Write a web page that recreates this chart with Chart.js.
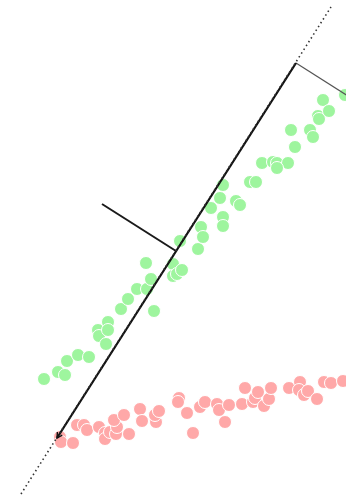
<!DOCTYPE html>
<html>
<head>
<meta charset="utf-8">
<script src="https://cdn.jsdelivr.net/npm/chart.js@4/dist/chart.umd.min.js"></script>
<style>
  html, body { margin: 0; padding: 0; background: #fff; }
  #wrap { width: 346px; height: 498px; }
</style>
</head>
<body>
<div id="wrap"><canvas id="chartPca"></canvas></div>
<script>
// two groups of samples
var greenX = [44,58,65,67,78,89,98,99,108,108,106,121,128,137,147,151,146,154,173,173,177,182,180,198,201,203,211,220,223,223,223,236,240,250,256,262,273,277,288,277,291,295,310,313,318,319,323,329,345]
var greenY = [119,126,123,137,143,141,168,162,176,168,154,189,199,209,209,219,235,187,234,222,224,228,257,249,271,261,290,300,313,281,272,297,293,316,316,335,336,335,335,330,368,351,368,361,382,379,398,387,403]

var redX = [60,61,73,77,84,87,99,105,105,110,116,117,114,124,129,140,142,156,155,159,179,178,187,193,200,205,217,219,229,225,242,245,253,255,258,264,269,271,289,300,299,304,308,317,324,331,343]
var redY = [61,56,55,73,73,68,71,65,59,66,64,71,78,83,64,89,77,76,83,87,100,96,85,65,91,96,94,88,93,76,94,110,96,100,106,92,99,110,110,116,108,103,107,99,116,115,117]

// principal axis (dotted), component arrow and the two perpendicular ticks
var axisX = [21, 331]
var axisY = [4, 491]
var arrowX = [296, 57]
var arrowY = [435, 60]
var perpTopX = [296, 362]
var perpTopY = [435, 393]
var perpMidX = [102, 176]
var perpMidY = [294, 247]

function pts(xs, ys){
    return xs.map(function(x, i){ return {x: x, y: ys[i]} })
}

// open arrowhead on the last point of the dataset that asks for it
var arrowHead = {
    id: 'arrowHead',
    afterDatasetsDraw: function(chart){
        chart.data.datasets.forEach(function(ds, i){
            if (!ds.arrow) return
            var meta = chart.getDatasetMeta(i)
            var a = meta.data[meta.data.length - 2]
            var b = meta.data[meta.data.length - 1]
            var ang = Math.atan2(b.y - a.y, b.x - a.x)
            var len = 6
            var c = chart.ctx
            c.save()
            c.strokeStyle = ds.borderColor
            c.lineWidth = 1.4
            c.beginPath()
            c.moveTo(b.x - len * Math.cos(ang - 0.5), b.y - len * Math.sin(ang - 0.5))
            c.lineTo(b.x, b.y)
            c.lineTo(b.x - len * Math.cos(ang + 0.5), b.y - len * Math.sin(ang + 0.5))
            c.stroke()
            c.restore()
        })
    }
}

var lineBase = {type: 'line', showLine: true, pointRadius: 0, fill: false, order: 0}

var ctx = document.getElementById('chartPca')
var chartPca = new Chart(ctx, {
    type: 'scatter',
    data: {
        datasets: [
            Object.assign({}, lineBase, {
                label: 'axis',
                data: pts(axisX, axisY),
                borderColor: '#333',
                borderWidth: 1.6,
                borderDash: [1.5, 3]
            }),
            Object.assign({}, lineBase, {
                label: 'component',
                data: pts(arrowX, arrowY),
                borderColor: '#111',
                borderWidth: 2.2,
                arrow: true
            }),
            Object.assign({}, lineBase, {
                label: 'perp top',
                data: pts(perpTopX, perpTopY),
                borderColor: '#555',
                borderWidth: 1.2
            }),
            Object.assign({}, lineBase, {
                label: 'perp mid',
                data: pts(perpMidX, perpMidY),
                borderColor: '#1a1a1a',
                borderWidth: 2
            }),
            {
                label: 'green',
                data: pts(greenX, greenY),
                backgroundColor: 'rgb(158,245,158)',
                borderColor: '#fff',
                borderWidth: 1,
                pointRadius: 6.5,
                pointHoverRadius: 6.5,
                order: 1
            },
            {
                label: 'red',
                data: pts(redX, redY),
                backgroundColor: 'rgb(255,168,168)',
                borderColor: '#fff',
                borderWidth: 1,
                pointRadius: 6.5,
                pointHoverRadius: 6.5,
                order: 1
            }
        ]
    },
    options: {
        responsive: true,
        maintainAspectRatio: false,
        animation: false,
        layout: { padding: 0, autoPadding: false },
        plugins: {
            legend: { display: false },
            tooltip: { enabled: false }
        },
        scales: {
            x: { type: 'linear', min: 0, max: 346, display: false },
            y: { type: 'linear', min: 0, max: 498, display: false }
        }
    },
    plugins: [arrowHead]
})
</script>
</body>
</html>
